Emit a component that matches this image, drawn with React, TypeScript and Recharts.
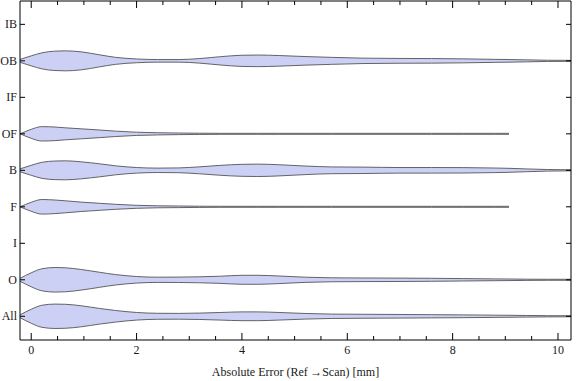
import { ComposedChart, Area, XAxis, YAxis } from "recharts";

// categories, bottom (index 0) to top
const categories = ["All", "O", "I", "F", "B", "OF", "IF", "OB", "IB"];

// error values (mm) where the density is sampled
const errorMm = [
  -0.21, 0, 0.2, 0.45, 0.65, 0.95, 1.3, 1.6, 2.0, 2.4, 2.8, 3.2, 3.6, 4.0, 4.3,
  4.7, 5.2, 5.7, 6.3, 7.0, 7.6, 8.2, 8.8, 9.07, 9.4, 9.8, 10.25,
];

// kernel density (relative) for each group
const densityOB = [1.5, 5, 8, 9.7, 10, 9, 6, 3.5, 1.9, 1.3, 1.3, 2.3, 4.2, 5.6, 5.8, 5.3, 4.3, 3.5, 2.7, 2.4, 2.3, 2.0, 1.5, 1.3, 1.0, 0.6, 0.5];
const densityOF = [0, 4.5, 7.2, 6.8, 6, 5, 3.8, 2.7, 1.6, 1.1, 0.8, 0.6, 0.5, 0.5, 0.5, 0.5, 0.5, 0.5, 0.5, 0.5, 0.5, 0.5, 0.5, 0.5, null, null, null];
const densityB = [1.5, 5, 8, 9.3, 9.5, 8.5, 6.5, 4.5, 2.8, 2.2, 2.4, 3.5, 5, 6, 6.2, 5.6, 4.3, 3.4, 3.2, 2.8, 2.8, 2.7, 2.3, 2.0, 1.4, 0.8, 0.5];
const densityF = [0, 4.5, 7.3, 6.8, 6, 4.7, 3.5, 2.5, 1.5, 1.0, 0.8, 0.6, 0.5, 0.5, 0.5, 0.5, 0.5, 0.5, 0.5, 0.5, 0.5, 0.5, 0.5, 0.5, null, null, null];
const densityO = [1.5, 7, 11, 12.3, 12, 10.3, 7.5, 5.2, 3.3, 2.6, 2.7, 3.0, 3.6, 4.5, 4.5, 3.8, 2.6, 2.0, 1.8, 1.7, 1.5, 1.2, 0.9, 0.8, 0.6, 0.5, 0.5];
const densityAll = [1.5, 7, 11, 12.2, 12, 10.5, 7.8, 5.8, 3.8, 3.0, 2.9, 3.2, 3.8, 4.4, 4.4, 3.8, 2.8, 2.2, 2.0, 1.8, 1.6, 1.4, 1.1, 1.0, 0.8, 0.6, 0.5];

const xTicks = [0, 0.5, 1, 1.5, 2, 2.5, 3, 3.5, 4, 4.5, 5, 5.5, 6, 6.5, 7, 7.5, 8, 8.5, 9, 9.5, 10];
const xLabels = [0, 2, 4, 6, 8, 10];
const yTicks = [0, 1, 2, 3, 4, 5, 6, 7, 8];

const violins = [
  { key: "OB", values: densityOB },
  { key: "OF", values: densityOF },
  { key: "B", values: densityB },
  { key: "F", values: densityF },
  { key: "O", values: densityO },
  { key: "All", values: densityAll },
];

const DENSITY_SCALE = 1 / 36.5;
const FONT = "'Liberation Serif', 'Times New Roman', serif";

const data = errorMm.map((x, i) => {
  const row: Record<string, number | null> = { x };
  violins.forEach((v) => {
    row[v.key] = v.values[i];
  });
  return row;
});

const BottomTick = (props: any) => {
  const { x, y, payload } = props;
  const major = xLabels.includes(payload.value);
  return (
    <g>
      <line x1={x} x2={x} y1={y} y2={y - (major ? 7 : 4)} stroke="#000" />
      {major && (
        <text x={x} y={y + 14} textAnchor="middle" fontFamily={FONT} fontSize={12} fill="#1a1a1a">
          {payload.value}
        </text>
      )}
    </g>
  );
};

const TopTick = (props: any) => {
  const { x, y, payload } = props;
  const major = xLabels.includes(payload.value);
  return <line x1={x} x2={x} y1={y} y2={y + (major ? 7 : 4)} stroke="#000" />;
};

const LeftTick = (props: any) => {
  const { x, y, payload } = props;
  return (
    <g>
      <line x1={x} x2={x + 5} y1={y} y2={y} stroke="#000" />
      <text x={x - 3} y={y + 4} textAnchor="end" fontFamily={FONT} fontSize={12} fill="#1a1a1a">
        {categories[payload.value]}
      </text>
    </g>
  );
};

const RightTick = (props: any) => {
  const { x, y } = props;
  return <line x1={x} x2={x - 5} y1={y} y2={y} stroke="#000" />;
};

export default function App() {
  return (
    <div style={{ position: "absolute", left: 0, top: 0, background: "#fff" }}>
      <ComposedChart
        width={576}
        height={381}
        data={data}
        margin={{ top: 0, right: 0, bottom: 0, left: 0 }}
      >
        <XAxis
          dataKey="x"
          type="number"
          domain={[-0.213, 10.247]}
          allowDataOverflow
          ticks={xTicks}
          interval={0}
          height={41}
          tickSize={0}
          tickMargin={0}
          tickLine={false}
          tick={<BottomTick />}
          axisLine={{ stroke: "#000" }}
          label={{
            value: "Absolute Error (Ref\u2009→Scan) [mm]",
            position: "insideBottom",
            offset: 5,
            style: { fontFamily: FONT, fontSize: 12, fill: "#1a1a1a" },
          }}
        />
        <XAxis
          xAxisId="top"
          orientation="top"
          dataKey="x"
          type="number"
          domain={[-0.213, 10.247]}
          allowDataOverflow
          ticks={xTicks}
          interval={0}
          height={1}
          tickSize={0}
          tickMargin={0}
          tickLine={false}
          tick={<TopTick />}
          axisLine={{ stroke: "#000" }}
        />
        <YAxis
          type="number"
          domain={[-0.65, 8.64]}
          allowDataOverflow
          ticks={yTicks}
          interval={0}
          width={20}
          tickSize={0}
          tickMargin={0}
          tickLine={false}
          tick={<LeftTick />}
          axisLine={{ stroke: "#000" }}
        />
        <YAxis
          yAxisId="right"
          orientation="right"
          type="number"
          domain={[-0.65, 8.64]}
          allowDataOverflow
          ticks={yTicks}
          interval={0}
          width={5}
          tickSize={0}
          tickMargin={0}
          tickLine={false}
          tick={<RightTick />}
          axisLine={{ stroke: "#000" }}
        />
        {violins.map((v) => {
          const center = categories.indexOf(v.key);
          return (
            <Area
              key={v.key}
              type="monotone"
              dataKey={(d: any) =>
                d[v.key] == null
                  ? null
                  : [center - d[v.key] * DENSITY_SCALE, center + d[v.key] * DENSITY_SCALE]
              }
              stroke="#555"
              strokeWidth={0.9}
              fill="#ccd0f4"
              fillOpacity={1}
              isAnimationActive={false}
              dot={false}
              activeDot={false}
            />
          );
        })}
      </ComposedChart>
    </div>
  );
}
